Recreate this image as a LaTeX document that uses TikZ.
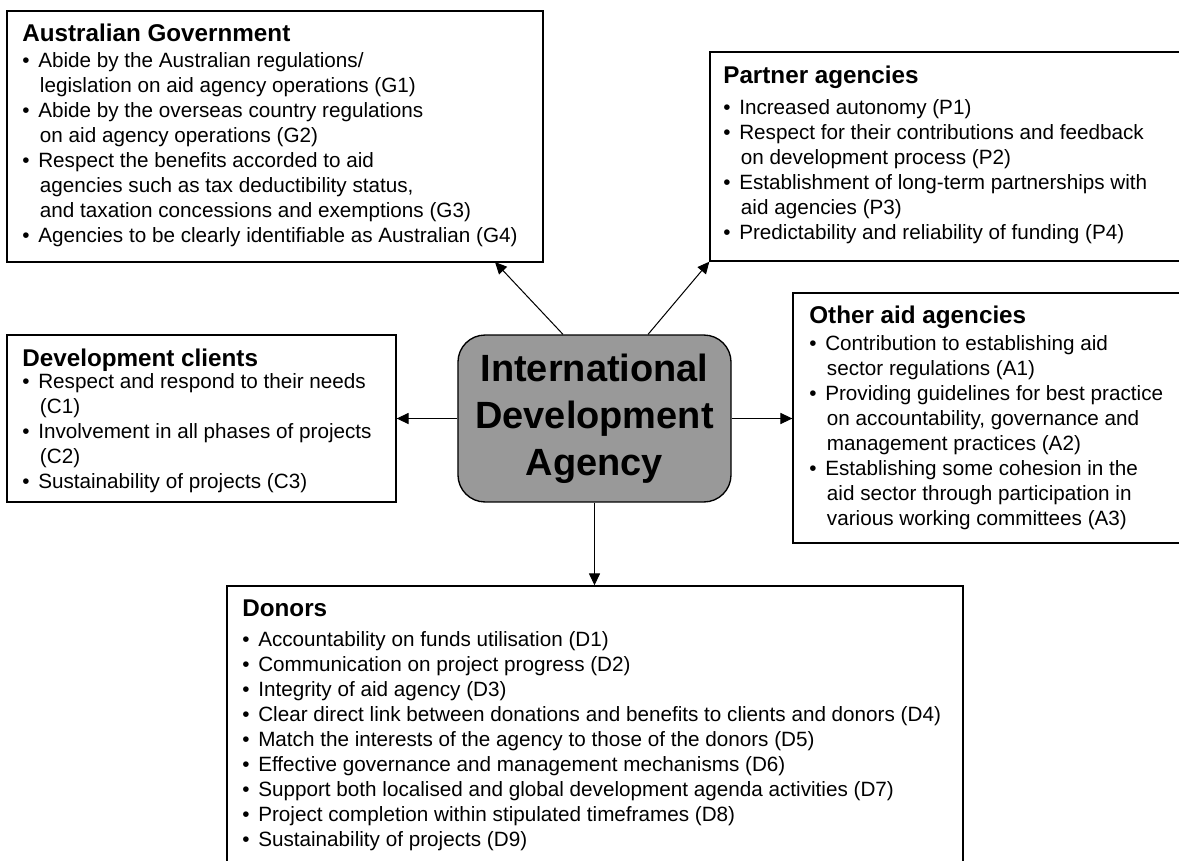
\documentclass[tikz,border=0pt]{standalone}
\usepackage{fontspec}
\setmainfont{Liberation Sans}
\usetikzlibrary{arrows.meta}
\usetikzlibrary{positioning}

\tikzset{
  frame/.style={draw=black, line width=0.8pt, inner sep=0pt},
  txt/.style={inner sep=0pt, anchor=north west, align=left,
    font=\fontsize{12.2}{14.75}\selectfont},
  arr/.style={line width=0.6pt, -{Triangle[length=7pt,width=6.5pt]}}
}
\newcommand{\hd}[1]{{\fontsize{14.3}{14.75}\selectfont\bfseries #1}}
\newcommand{\bl}{\makebox[9.4pt][l]{•}}
\newcommand{\ind}{\hspace*{10.4pt}}

\begin{document}
\begin{tikzpicture}[x=0.59pt, y=-0.59pt]
\useasboundingbox (0,0) rectangle (1179,861);

\node[frame, minimum width=316.2pt, minimum height=148.1pt] at (275,136.5) (GOV) {};
\node[frame, minimum width=289.1pt, minimum height=123.3pt] at (955,156.5) (PA) {};
\node[frame, minimum width=240.1pt, minimum height=147.5pt] at (996.5,418) (OA) {};
\node[frame, minimum width=229.5pt, minimum height=98.5pt] at (201.5,418.5) (DC) {};
\node[frame, minimum width=434.2pt, minimum height=185.3pt] at (595,743) (DON) {};
\node[frame, fill=black!40, rounded corners=16pt, minimum width=161.1pt,
  minimum height=98.5pt, align=center,
  font=\fontsize{22.4}{27.7}\selectfont\bfseries] at (594.5,418.5) (IDA)
  {International\\Development\\Agency};

\node[txt] at (22,23.2) (GOVt) {\hd{Australian Government}\\[0.6pt]
  \bl Abide by the Australian regulations/\\
  \ind legislation on aid agency operations (G1)\\
  \bl Abide by the overseas country regulations\\
  \ind on aid agency operations (G2)\\
  \bl Respect the benefits accorded to aid\\
  \ind agencies such as tax deductibility status,\\
  \ind and taxation concessions and exemptions (G3)\\
  \bl Agencies to be clearly identifiable as Australian (G4)};

\node[txt] at (723,65.2) (PAt) {\hd{Partner agencies}\\[3.7pt]
  \bl Increased autonomy (P1)\\
  \bl Respect for their contributions and feedback\\
  \ind on development process (P2)\\
  \bl Establishment of long-term partnerships with\\
  \ind aid agencies (P3)\\
  \bl Predictability and reliability of funding (P4)};

\node[txt] at (809,305.5) (OAt) {\hd{Other aid agencies}\\[1.2pt]
  \bl Contribution to establishing aid\\
  \ind sector regulations (A1)\\
  \bl Providing guidelines for best practice\\
  \ind on accountability, governance and\\
  \ind management practices (A2)\\
  \bl Establishing some cohesion in the\\
  \ind aid sector through participation in\\
  \ind various working committees (A3)};

\node[txt] at (22,348.5) (DCt) {\hd{Development clients}\\[-1.5pt]
  \bl Respect and respond to their needs\\
  \ind (C1)\\
  \bl Involvement in all phases of projects\\
  \ind (C2)\\
  \bl Sustainability of projects (C3)};

\node[txt] at (242,599.5) (DONt) {\hd{Donors}\\[3pt]
  \bl Accountability on funds utilisation (D1)\\
  \bl Communication on project progress (D2)\\
  \bl Integrity of aid agency (D3)\\
  \bl Clear direct link between donations and benefits to clients and donors (D4)\\
  \bl Match the interests of the agency to those of the donors (D5)\\
  \bl Effective governance and management mechanisms (D6)\\
  \bl Support both localised and global development agenda activities (D7)\\
  \bl Project completion within stipulated timeframes (D8)\\
  \bl Sustainability of projects (D9)};

\coordinate (GOVtip) at (495,262);
\draw[arr] ([xshift=-18.6pt]IDA.north) -- (GOVtip);
\draw[arr] ([xshift=31.6pt]IDA.north) -- (PA.south west);
\draw[arr] (IDA.west) -- (DC.east);
\draw[arr] (IDA.east) -- (OA.west |- IDA.east);
\draw[arr] (IDA.south) -- (IDA.south |- DON.north);
\end{tikzpicture}
\end{document}
